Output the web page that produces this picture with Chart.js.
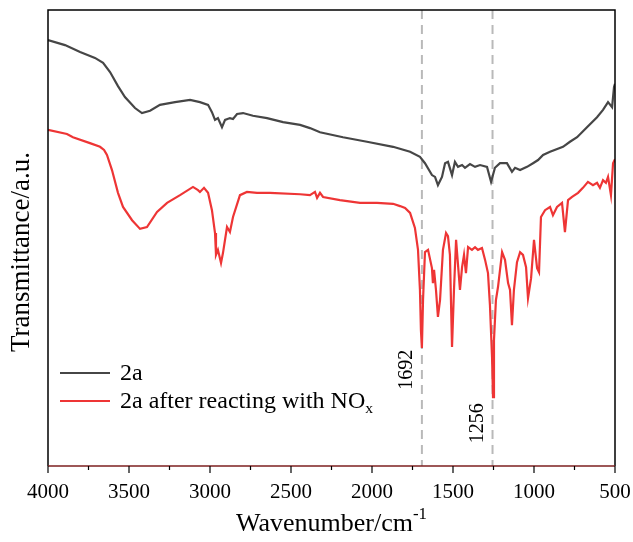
<!DOCTYPE html>
<html>
<head>
<meta charset="utf-8">
<script src="https://cdn.jsdelivr.net/npm/chart.js@4.4.1/dist/chart.umd.min.js"></script>
<style>
  html, body { margin: 0; padding: 0; background: #fff; }
  #wrap { width: 633px; height: 542px; }
</style>
</head>
<body>
<div id="wrap"><canvas id="ftir" width="633" height="542"></canvas></div>
<script>
// wavenumbers (cm-1) and transmittance (a.u., offset spectra)
const grayWn = [4000, 3895, 3802, 3710, 3660, 3617, 3568, 3525, 3463, 3420, 3370, 3309, 3216, 3123, 3062, 3012, 2988, 2969, 2951, 2926, 2907, 2877, 2858, 2833, 2796, 2735, 2648, 2549, 2444, 2383, 2321, 2179, 2031, 1870, 1765, 1704, 1673, 1630, 1611, 1593, 1568, 1549, 1531, 1506, 1488, 1469, 1444, 1426, 1395, 1364, 1333, 1290, 1265, 1241, 1210, 1167, 1136, 1117, 1086, 1043, 1006, 975, 944, 901, 821, 778, 734, 673, 611, 574, 543, 518, 506, 500];
const grayT = [93.4, 92.3, 90.8, 89.5, 88.4, 86.4, 83.3, 80.9, 78.5, 77.4, 77.9, 79.2, 79.8, 80.3, 79.8, 79.2, 77.6, 75.9, 76.3, 74.3, 75.9, 76.3, 76.1, 77.2, 77.4, 76.8, 76.3, 75.4, 74.8, 74.1, 73.2, 72.1, 71.1, 70.0, 68.9, 67.8, 66.4, 63.8, 63.4, 61.6, 63.4, 66.4, 66.7, 63.8, 66.7, 65.6, 66.0, 65.4, 66.2, 65.6, 66.0, 65.6, 62.3, 65.4, 66.4, 66.4, 64.5, 65.4, 64.9, 65.6, 66.4, 67.1, 68.2, 68.9, 70.0, 71.1, 72.1, 74.3, 76.5, 78.1, 79.8, 78.7, 83.1, 83.8];

const redWn = [4000, 3883, 3846, 3741, 3679, 3654, 3636, 3605, 3568, 3537, 3481, 3432, 3389, 3327, 3265, 3185, 3105, 3074, 3062, 3037, 3012, 2988, 2969, 2963, 2951, 2932, 2920, 2895, 2877, 2858, 2815, 2772, 2710, 2630, 2444, 2383, 2352, 2339, 2321, 2302, 2198, 2074, 1969, 1870, 1827, 1796, 1765, 1735, 1716, 1704, 1698, 1692, 1685, 1673, 1654, 1630, 1624, 1617, 1605, 1593, 1580, 1562, 1543, 1531, 1519, 1506, 1494, 1481, 1469, 1457, 1444, 1432, 1420, 1407, 1383, 1364, 1346, 1321, 1302, 1284, 1272, 1259, 1253, 1247, 1235, 1222, 1197, 1179, 1160, 1148, 1136, 1124, 1105, 1086, 1068, 1049, 1037, 1018, 1000, 981, 969, 957, 932, 901, 883, 858, 827, 809, 790, 765, 728, 698, 667, 636, 611, 593, 574, 556, 543, 525, 512, 500];
const redT = [73.7, 72.8, 72.1, 70.8, 70.0, 69.3, 68.2, 64.9, 59.9, 56.8, 53.9, 52.0, 52.4, 55.7, 57.7, 59.4, 61.2, 60.5, 60.1, 61.0, 59.9, 56.1, 51.1, 46.3, 47.4, 44.5, 46.7, 52.4, 51.3, 54.6, 59.4, 60.1, 59.9, 59.9, 59.6, 59.4, 60.1, 58.8, 59.9, 59.0, 58.3, 57.7, 57.7, 57.5, 57.0, 56.6, 55.5, 52.2, 47.4, 38.6, 29.8, 25.9, 36.4, 46.9, 47.4, 43.4, 40.1, 43.0, 38.6, 32.7, 36.4, 47.4, 51.1, 50.4, 46.3, 26.1, 38.6, 49.6, 44.1, 38.6, 43.6, 46.3, 42.3, 48.0, 47.4, 48.0, 47.4, 47.8, 45.2, 42.3, 35.3, 23.9, 15.1, 27.6, 36.4, 39.3, 46.9, 45.2, 40.1, 38.6, 30.9, 38.6, 44.7, 46.9, 46.3, 43.6, 36.8, 41.2, 49.6, 43.4, 42.5, 54.6, 56.1, 56.8, 55.0, 56.8, 57.7, 51.3, 58.3, 59.0, 59.9, 61.0, 62.3, 61.6, 62.1, 61.0, 62.7, 62.1, 63.4, 59.4, 66.4, 67.3];

const majorTicks = [4000, 3500, 3000, 2500, 2000, 1500, 1000, 500];
const minorTicks = [3750, 3250, 2750, 2250, 1750, 1250, 750];
const peaks = [1692, 1256];
const peakLabelY = [21.1, 9.4];

const grayColor = '#464646';
const redColor = '#ee3535';
const serif = '"Liberation Serif", "Times New Roman", serif';

const toXY = (xs, ys) => xs.map((x, i) => ({ x: x, y: ys[i] }));

// text helper: pieces like [text, 'sup'|'sub'|null]
function drawRich(ctx, parts, x, y, size, align) {
  ctx.save();
  ctx.textBaseline = 'middle';
  ctx.textAlign = 'left';
  let total = 0;
  parts.forEach(p => {
    ctx.font = (p[1] ? size * 0.65 : size) + 'px ' + serif;
    total += ctx.measureText(p[0]).width;
  });
  let cx = align === 'center' ? x - total / 2 : x;
  parts.forEach(p => {
    const s = p[1] ? size * 0.65 : size;
    ctx.font = s + 'px ' + serif;
    let dy = 0;
    if (p[1] === 'sup') dy = -size * 0.35;
    if (p[1] === 'sub') dy = size * 0.3;
    ctx.fillText(p[0], cx, y + dy);
    cx += ctx.measureText(p[0]).width;
  });
  ctx.restore();
}

const decor = {
  id: 'decor',
  beforeDatasetsDraw(chart) {
    const { ctx, chartArea: a, scales: { x } } = chart;
    ctx.save();
    ctx.strokeStyle = '#b9b9b9';
    ctx.lineWidth = 2;
    ctx.setLineDash([9, 6]);
    peaks.forEach(p => {
      const px = x.getPixelForValue(p);
      ctx.beginPath();
      ctx.moveTo(px, a.top);
      ctx.lineTo(px, a.bottom);
      ctx.stroke();
    });
    ctx.restore();
  },
  afterDraw(chart) {
    const { ctx, chartArea: a, scales: { x, y } } = chart;
    ctx.save();
    // frame
    ctx.strokeStyle = '#000';
    ctx.lineWidth = 1.5;
    ctx.beginPath();
    ctx.moveTo(a.left, a.bottom);
    ctx.lineTo(a.left, a.top);
    ctx.lineTo(a.right, a.top);
    ctx.lineTo(a.right, a.bottom);
    ctx.stroke();
    // bottom axis line + ticks
    ctx.strokeStyle = '#7d1f1f';
    ctx.beginPath();
    ctx.moveTo(a.left, a.bottom);
    ctx.lineTo(a.right, a.bottom);
    ctx.stroke();
    ctx.strokeStyle = '#000';
    ctx.lineWidth = 1.2;
    majorTicks.forEach(t => {
      const px = x.getPixelForValue(t);
      ctx.beginPath(); ctx.moveTo(px, a.bottom); ctx.lineTo(px, a.bottom + 7); ctx.stroke();
    });
    minorTicks.forEach(t => {
      const px = x.getPixelForValue(t);
      ctx.beginPath(); ctx.moveTo(px, a.bottom); ctx.lineTo(px, a.bottom + 4); ctx.stroke();
    });

    ctx.fillStyle = '#000';
    // axis titles
    drawRich(ctx, [['Wavenumber/cm', null], ['-1', 'sup']], (a.left + a.right) / 2, 524, 26, 'center');
    ctx.save();
    ctx.translate(22, 252);
    ctx.rotate(-Math.PI / 2);
    drawRich(ctx, [['Transmittance/a.u.', null]], 0, 0, 27, 'center');
    ctx.restore();

    // peak labels
    peaks.forEach((p, i) => {
      ctx.save();
      ctx.translate(x.getPixelForValue(p) - 15, y.getPixelForValue(peakLabelY[i]));
      ctx.rotate(-Math.PI / 2);
      drawRich(ctx, [[String(p), null]], 0, 0, 20, 'center');
      ctx.restore();
    });

    // legend
    const legend = [
      { color: grayColor, parts: [['2a', null]], y: 373 },
      { color: redColor, parts: [['2a after reacting with NO', null], ['x', 'sub']], y: 401 }
    ];
    legend.forEach(l => {
      ctx.strokeStyle = l.color;
      ctx.lineWidth = 2;
      ctx.beginPath(); ctx.moveTo(60, l.y); ctx.lineTo(110, l.y); ctx.stroke();
      drawRich(ctx, l.parts, 120, l.y + 1, 24, 'left');
    });
    ctx.restore();
  }
};

new Chart(document.getElementById('ftir'), {
  type: 'line',
  data: {
    datasets: [
      { label: '2a', data: toXY(grayWn, grayT), borderColor: grayColor, borderWidth: 2.2, pointRadius: 0, tension: 0 },
      { label: '2a after reacting with NOx', data: toXY(redWn, redT), borderColor: redColor, borderWidth: 2.2, pointRadius: 0, tension: 0 }
    ]
  },
  options: {
    responsive: false,
    animation: false,
    layout: { padding: { left: 48, right: 18, top: 10, bottom: 0 } },
    plugins: { legend: { display: false }, tooltip: { enabled: false } },
    scales: {
      x: {
        type: 'linear',
        reverse: true,
        min: 500,
        max: 4000,
        afterBuildTicks: s => { s.ticks = majorTicks.map(v => ({ value: v })); },
        afterFit: s => { s.height = 76; s.paddingLeft = 0; s.paddingRight = 0; },
        grid: { display: false, drawTicks: false },
        border: { display: false },
        ticks: {
          color: '#000', padding: 14, maxRotation: 0, autoSkip: false,
          font: { family: serif, size: 21 },
          callback: v => String(v)
        }
      },
      y: {
        display: false,
        min: 0,
        max: 100
      }
    }
  },
  plugins: [decor]
});
</script>
</body>
</html>
